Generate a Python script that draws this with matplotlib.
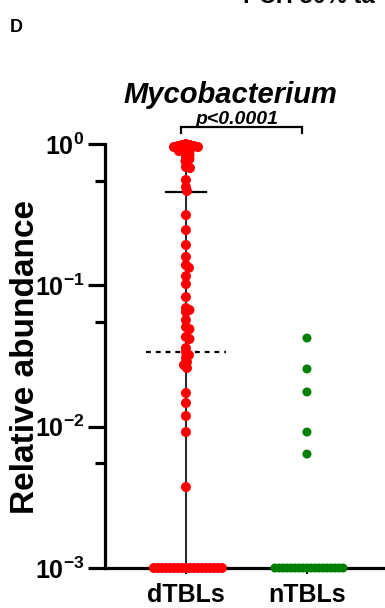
import numpy as np
import matplotlib
matplotlib.use("Agg")
import matplotlib.pyplot as plt
from matplotlib.ticker import FixedLocator

plt.rcParams["font.family"] = "Liberation Sans"
plt.rcParams["mathtext.fontset"] = "custom"
plt.rcParams["mathtext.rm"] = "Liberation Sans"
plt.rcParams["mathtext.bf"] = "Liberation Sans:bold"
plt.rcParams["mathtext.it"] = "Liberation Sans:italic"

# data (relative abundance, zeros sit on the 1e-3 floor)
groups = ["dTBLs", "nTBLs"]
dtbl_values = [1.0, 0.984, 0.984, 0.968, 0.968, 0.952, 0.952, 0.937, 0.922,
               0.907, 0.892, 0.864, 0.836, 0.809, 0.783, 0.758, 0.687, 0.676,
               0.556, 0.496, 0.465, 0.314, 0.246, 0.193, 0.159, 0.139, 0.133,
               0.116, 0.102, 0.0826, 0.0691, 0.0669, 0.0647, 0.0568, 0.0507,
               0.0490, 0.0431, 0.0417, 0.0360, 0.0337, 0.0321, 0.0306, 0.0287,
               0.0273, 0.0260, 0.0173, 0.0147, 0.0119, 0.00916, 0.00374]
ntbl_values = [0.0424, 0.0256, 0.0176, 0.00916, 0.0064]
dtbl_zero_count = 18
ntbl_zero_count = 18
floor_value = 1e-3
dtbl_upper_line = 0.457
dtbl_median_line = 0.034
p_text = "p<0.0001"

fig = plt.figure(figsize=(3.85, 6.08), dpi=100)
ax = fig.add_axes([105 / 385, 40 / 608, 280 / 385, 424 / 608])
ax.set_yscale("log")
ax.set_ylim(1e-3, 1)
ax.set_xlim(-0.669, 1.645)


def swarm(values, xc, dmin):
    # simple beeswarm in pixel space
    pts = ax.transData.transform(np.column_stack([np.full(len(values), xc), values]))
    ypix = pts[:, 1]
    ppu = ax.transData.transform((1, 1))[0] - ax.transData.transform((0, 1))[0]
    order = np.argsort(-ypix)
    placed = []
    xs = np.zeros(len(values))
    cands = [0.0]
    for k in range(1, 200):
        cands += [k * 0.5, -k * 0.5]
    for i in order:
        for dx in cands:
            ok = True
            for px, py in placed:
                if (dx - px) ** 2 + (ypix[i] - py) ** 2 < dmin ** 2:
                    ok = False
                    break
            if ok:
                break
        placed.append((dx, ypix[i]))
        xs[i] = xc + dx / ppu
    return xs


red = "#ff0000"
green = "#008000"

dt_all = np.array(dtbl_values + [floor_value] * dtbl_zero_count)
nt_all = np.array(ntbl_values + [floor_value] * ntbl_zero_count)
dx = swarm(dt_all, 0, 4.0)
nx = swarm(nt_all, 1, 4.0)

# range line and summary lines
ax.plot([0, 0], [dt_all.min(), dt_all.max()], color="black", lw=1.2, zorder=2)
ax.plot([-0.165, 0.165], [dtbl_upper_line] * 2, color="black", lw=1.6, zorder=4)
ax.plot([-0.33, 0.33], [dtbl_median_line] * 2, color="black", lw=1.6,
        ls=(0, (2.2, 2.2)), zorder=4)

ax.scatter(dx, dt_all, s=52, color=red, edgecolors="none", zorder=5, clip_on=False)
ax.scatter(nx, nt_all, s=42, color=green, edgecolors="none", zorder=5, clip_on=False)

for side in ["top", "right"]:
    ax.spines[side].set_visible(False)
ax.spines["left"].set_linewidth(2.3)
ax.spines["bottom"].set_linewidth(2.3)

ax.yaxis.set_major_locator(FixedLocator([1e-3, 1e-2, 1e-1, 1]))
ax.yaxis.set_minor_locator(FixedLocator([5.5e-3, 5.5e-2, 5.5e-1]))
ax.set_yticklabels([r"$\mathbf{10^{-3}}$", r"$\mathbf{10^{-2}}$",
                    r"$\mathbf{10^{-1}}$", r"$\mathbf{10^{0}}$"])
ax.yaxis.set_minor_formatter(plt.NullFormatter())
ax.tick_params(axis="y", which="major", length=12, width=2.3, labelsize=18, pad=3)
ax.tick_params(axis="y", which="minor", length=7, width=2.3)

ax.set_xticks([0, 1])
ax.set_xticklabels(groups, fontsize=18, fontweight="bold")
ax.tick_params(axis="x", length=4, width=1.4, pad=7)

fig.text(26 / 385, 1 - 357 / 608, "Relative abundance", rotation=90,
         ha="center", va="center", fontsize=24, fontweight="bold")
fig.text(230 / 385, 1 - 103 / 608, "Mycobacterium", ha="center", va="baseline",
         fontsize=21, fontweight="bold", style="italic")
fig.text(237 / 385, 1 - 124 / 608, p_text, ha="center", va="baseline",
         fontsize=14, fontweight="bold", style="italic")
fig.text(10 / 385, 1 - 32 / 608, "D", ha="left", va="baseline",
         fontsize=13, fontweight="bold")
fig.text(243 / 385, 1 - 3 / 608, "PCH 30% ta", ha="left", va="baseline",
         fontsize=17, fontweight="bold")

# significance bracket
b_lo = 10 ** (11 / 141.3)
b_hi = 10 ** (17 / 141.3)
ax.plot([-0.041, -0.041, 0.959, 0.959], [b_lo, b_hi, b_hi, b_lo],
        color="black", lw=1.6, clip_on=False, solid_joinstyle="miter")

fig.savefig("out.png", dpi=100)
